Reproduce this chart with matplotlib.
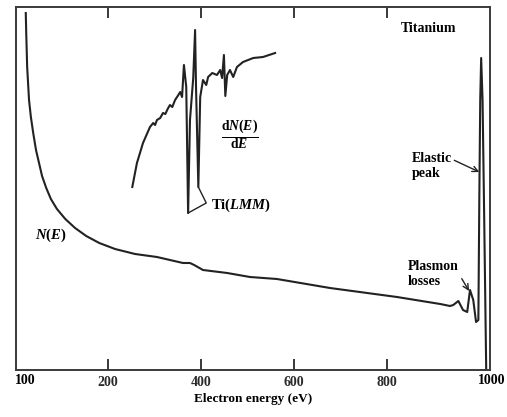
import matplotlib
matplotlib.use("Agg")
import matplotlib.pyplot as plt

# Spectre Auger du titane : N(E) et dN(E)/dE (unités arbitraires)
n_energy = [23, 24, 26, 30, 34, 39, 45, 52, 58, 67, 77, 90, 108, 129, 153,
            181, 215, 258, 305, 361, 376, 385, 404, 456, 505, 563, 677, 821,
            914, 935, 942, 953, 963, 972, 978, 985, 991, 996, 998, 1000, 1002,
            1005, 1008, 1013]
n_counts = [357, 337, 303, 270, 253, 237, 220, 206, 194, 182, 171, 161, 151,
            142, 134, 127, 121, 116, 113, 107, 107, 105, 100, 97, 93, 91, 82,
            73, 66, 64, 65, 69, 60, 58, 80, 70, 48, 50, 170, 270, 312, 270,
            170, -5]

d_energy = [252, 262, 275, 290, 297, 301, 305, 312, 318, 323, 328, 333, 338,
            344, 351, 355, 359, 363, 368, 372, 376, 383, 387, 389, 394, 398,
            404, 411, 415, 424, 434, 441, 445, 449, 452, 456, 462, 469, 477,
            490, 512, 533, 559]
d_counts = [183, 207, 227, 243, 247, 245, 250, 252, 257, 256, 261, 265, 263,
            270, 275, 278, 273, 305, 283, 157, 250, 292, 340, 283, 183, 273,
            290, 285, 293, 297, 295, 300, 292, 315, 274, 295, 300, 293, 303,
            308, 312, 313, 317]

# crochet qui relie les deux creux à l'étiquette Ti(LMM)
bracket_energy = [372, 411, 394]
bracket_counts = [157, 167, 183]

x_ticks = [200, 400, 600, 800]
x_labels = ['200', '400', '600', '800']

serif = 'Liberation Serif'
plt.rcParams['mathtext.fontset'] = 'custom'
plt.rcParams['mathtext.rm'] = 'Liberation Serif:bold'
plt.rcParams['mathtext.it'] = 'Liberation Serif:italic:bold'
plt.rcParams['mathtext.bf'] = 'Liberation Serif:bold'

ink = '#222222'

fig = plt.figure(figsize=(5.07, 4.17), dpi=100)
ax = fig.add_axes([16 / 507, 1 - 370 / 417, 474 / 507, 363 / 417])

ax.plot(n_energy, n_counts, color=ink, lw=1.5)
ax.plot(d_energy, d_counts, color=ink, lw=1.5)
ax.plot(bracket_energy, bracket_counts, color=ink, lw=1.0)

ax.set_xlim(2, 1021)
ax.set_ylim(0, 363)
ax.set_yticks([])
ax.set_xticks(x_ticks)
ax.set_xticklabels(x_labels, fontfamily=serif, fontweight='bold', fontsize=10)
ax.tick_params(axis='x', direction='in', length=8, width=1.3, top=True,
               pad=4, colors='#2a2a2a')
for s in ax.spines.values():
    s.set_linewidth(1.4)
    s.set_color('#3a3a3a')

# étiquettes des extrémités de l'axe
ax.text(22, -4, '100', ha='center', va='top', fontfamily=serif,
        fontweight='bold', fontsize=10, clip_on=False)
ax.text(1025, -4, '1000', ha='center', va='top', fontfamily=serif,
        fontweight='bold', fontsize=10, clip_on=False)
ax.set_xlabel('Electron energy (eV)', fontfamily=serif, fontweight='bold',
              fontsize=9.5, labelpad=3)

ax.text(888, 342, 'Titanium', ha='center', va='center', fontfamily=serif,
        fontweight='bold', fontsize=10)
ax.text(484, 235, r'$\frac{\mathrm{d}N(E)}{\mathrm{d}E}$', ha='center',
        va='center', fontsize=14)
ax.text(77, 135, r'$N(E)$', ha='center', va='center', fontsize=10.5)
ax.text(422, 165, r'Ti($\mathit{LMM}$)', ha='left', va='center',
        fontfamily=serif, fontweight='bold', fontsize=10.5)

ax.annotate('Elastic\npeak', xy=(998, 198), xytext=(852, 204),
            ha='left', va='center', fontfamily=serif, fontweight='bold',
            fontsize=10, linespacing=1.2,
            arrowprops=dict(arrowstyle='->', color=ink, lw=1.0,
                            shrinkA=0, shrinkB=0, relpos=(1.0, 0.75)))
ax.annotate('Plasmon\nlosses', xy=(976, 79), xytext=(845, 96),
            ha='left', va='center', fontfamily=serif, fontweight='bold',
            fontsize=10, linespacing=1.2,
            arrowprops=dict(arrowstyle='->', color=ink, lw=1.0,
                            shrinkA=0, shrinkB=0, relpos=(1.0, 0.5)))

fig.savefig('out.png', dpi=100)
